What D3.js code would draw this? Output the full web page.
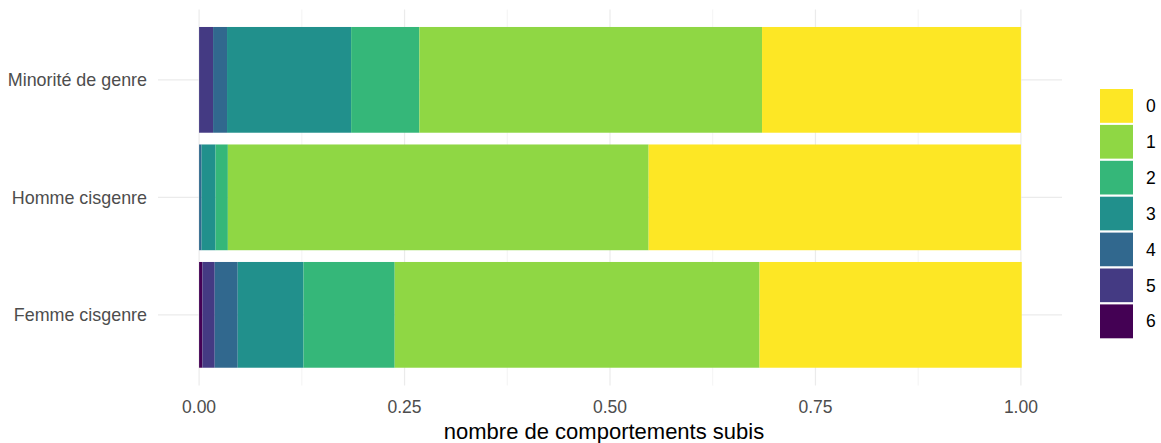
<!DOCTYPE html>
<html lang="en">
<head>
<meta charset="UTF-8">
<title>Comportements subis</title>
<script src="https://d3js.org/d3.v7.min.js"></script>
<style>
    body { margin: 0; background: #fff; }
    svg text { font-family: "Liberation Sans", Arial, sans-serif; }
</style>
</head>
<body>
<svg id="chart"></svg>
<script>
    const width = 1161, height = 443;

    // categories, top to bottom
    const groups = ["Minorité de genre", "Homme cisgenre", "Femme cisgenre"];
    // number of behaviours (legend order)
    const levels = ["0", "1", "2", "3", "4", "5", "6"];
    const colors = ["#FDE725", "#8FD744", "#35B779", "#21908C", "#31688E", "#443A83", "#440154"];

    // proportions per level, one array per group (levels 0..6)
    const minorite = [0.315, 0.417, 0.083, 0.151, 0.017, 0.017, 0.000];
    const homme    = [0.453, 0.512, 0.015, 0.017, 0.003, 0.000, 0.000];
    const femme    = [0.319, 0.444, 0.111, 0.080, 0.028, 0.015, 0.004];
    const values = [minorite, homme, femme];

    const xTicks = [0, 0.25, 0.5, 0.75, 1];
    const xMinor = [0.125, 0.375, 0.625, 0.875];

    const svg = d3.select("#chart").attr("width", width).attr("height", height);

    // panel spans -0.05..1.05 like ggplot's expansion
    const x = d3.scaleLinear().domain([-0.05, 1.05]).range([158, 1062]);
    const y = d3.scaleBand().domain(groups).range([21.1, 373.6]).paddingInner(0.1).paddingOuter(0.05);
    const panelTop = 9.5, panelBottom = 385.5;

    // grid
    const grid = svg.append("g");
    grid.selectAll(".minor").data(xMinor).enter().append("line")
        .attr("x1", d => x(d)).attr("x2", d => x(d))
        .attr("y1", panelTop).attr("y2", panelBottom)
        .attr("stroke", "#EBEBEB").attr("stroke-width", 0.6);
    grid.selectAll(".major").data(xTicks).enter().append("line")
        .attr("x1", d => x(d)).attr("x2", d => x(d))
        .attr("y1", panelTop).attr("y2", panelBottom)
        .attr("stroke", "#EBEBEB").attr("stroke-width", 1.2);
    grid.selectAll(".hmajor").data(groups).enter().append("line")
        .attr("x1", 158).attr("x2", 1062)
        .attr("y1", d => y(d) + y.bandwidth() / 2).attr("y2", d => y(d) + y.bandwidth() / 2)
        .attr("stroke", "#EBEBEB").attr("stroke-width", 1.2);

    // stacked bars: level 6 at left, level 0 at right
    const bars = svg.append("g");
    groups.forEach(function (g, gi) {
        let cum = 0;
        for (let li = levels.length - 1; li >= 0; li--) {
            const v = values[gi][li];
            if (v > 0) {
                bars.append("rect")
                    .attr("x", x(cum))
                    .attr("width", x(cum + v) - x(cum))
                    .attr("y", y(g))
                    .attr("height", y.bandwidth())
                    .attr("fill", colors[li]);
            }
            cum += v;
        }
    });

    // x axis labels
    svg.append("g").selectAll("text").data(xTicks).enter().append("text")
        .attr("x", d => x(d)).attr("y", 413)
        .attr("text-anchor", "middle")
        .attr("font-size", 17.5).attr("fill", "#4D4D4D")
        .text(d => d.toFixed(2));

    // y axis labels
    svg.append("g").selectAll("text").data(groups).enter().append("text")
        .attr("x", 147).attr("y", d => y(d) + y.bandwidth() / 2)
        .attr("dy", "0.35em")
        .attr("text-anchor", "end")
        .attr("font-size", 17.9).attr("fill", "#4D4D4D")
        .text(d => d);

    // x title
    svg.append("text")
        .attr("x", x(0.5) - 6).attr("y", 439)
        .attr("text-anchor", "middle")
        .attr("font-size", 22).attr("fill", "#000")
        .text("nombre de comportements subis");

    // legend
    const key = 35.9;
    const legend = svg.append("g").attr("transform", "translate(1099, 88)");
    legend.selectAll("rect").data(levels).enter().append("rect")
        .attr("x", 0).attr("y", (d, i) => i * key)
        .attr("width", 35).attr("height", key)
        .attr("fill", (d, i) => colors[i])
        .attr("stroke", "#fff").attr("stroke-width", 2);
    legend.selectAll("text").data(levels).enter().append("text")
        .attr("x", 47).attr("y", (d, i) => i * key + key / 2)
        .attr("dy", "0.35em")
        .attr("font-size", 17.5).attr("fill", "#000")
        .text(d => d);
</script>
</body>
</html>
